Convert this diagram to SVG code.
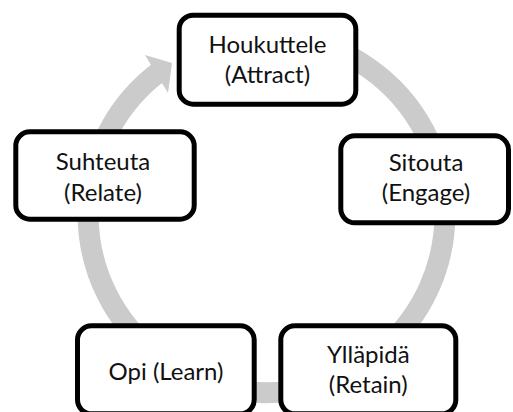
<svg xmlns="http://www.w3.org/2000/svg" width="513" height="412" viewBox="0 0 513 412">
  <style>
    .box { fill: #ffffff; stroke: #000000; stroke-width: 5; }
    .lbl { font-family: Lato, "Open Sans", sans-serif; font-size: 24px; fill: #111111; text-anchor: middle; }
    .cyc { fill: none; stroke: #cbcbcb; stroke-width: 21; }
  </style>
  <rect width="513" height="412" fill="#ffffff"/>
  <g id="connectors">
    <path class="cyc" d="M 297.9 38.7 A 178.4 178.4 0 1 1 159.6 71.5"/>
    <polygon points="145,55 172,63 168,93" fill="#cbcbcb"/>
  </g>
  <g id="node-attract">
    <rect class="box" x="179.2" y="15.2" width="176.6" height="89" rx="14"/>
    <text class="lbl" x="267.5" y="53">Houkuttele</text>
    <text class="lbl" x="267.5" y="83">(Attract)</text>
  </g>
  <g id="node-engage">
    <rect class="box" x="340.8" y="135.8" width="167.7" height="87" rx="14"/>
    <text class="lbl" x="426" y="171">Sitouta</text>
    <text class="lbl" x="426" y="201">(Engage)</text>
  </g>
  <g id="node-retain">
    <rect class="box" x="280.8" y="325.8" width="175" height="88" rx="14"/>
    <text class="lbl" x="368.3" y="363">Ylläpidä</text>
    <text class="lbl" x="368.3" y="393">(Retain)</text>
  </g>
  <g id="node-learn">
    <rect class="box" x="77.5" y="325.8" width="176.7" height="88" rx="14"/>
    <text class="lbl" x="166" y="380">Opi (Learn)</text>
  </g>
  <g id="node-relate">
    <rect class="box" x="15.8" y="131.8" width="178.4" height="87.4" rx="14"/>
    <text class="lbl" x="103" y="170">Suhteuta</text>
    <text class="lbl" x="103" y="201">(Relate)</text>
  </g>
</svg>
